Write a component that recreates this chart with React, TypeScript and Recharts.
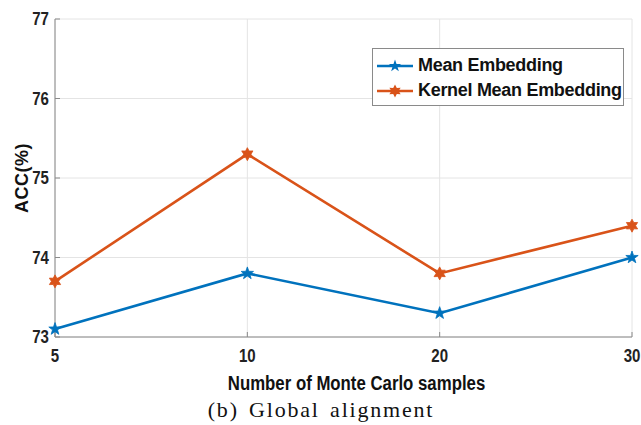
import { CartesianGrid, Label, Line, LineChart, XAxis, YAxis } from "recharts";

const samples = ["5", "10", "20", "30"];
const meanEmbedding = [73.1, 73.8, 73.3, 74.0];
const kernelMeanEmbedding = [73.7, 75.3, 73.8, 74.4];
const yTicks = [73, 74, 75, 76, 77];
const seriesNames = ["Mean Embedding", "Kernel Mean Embedding"];
const xTitle = "Number of Monte Carlo samples";
const yTitle = "ACC(%)";
const caption = "(b) Global alignment";

const data = samples.map((s, i) => ({
  samples: s,
  mean: meanEmbedding[i],
  kernel: kernelMeanEmbedding[i],
}));

const BLUE = "#0072BD";
const ORANGE = "#D95319";
const AXIS = "#8a8a8a";
const SANS = '"Liberation Sans", Arial, sans-serif';

// star polygon: 5 points = pentagram, 6 points = hexagram
const starPath = (cx: number, cy: number, points: number, outer: number, inner: number) => {
  let d = "";
  for (let i = 0; i < points * 2; i++) {
    const r = i % 2 === 0 ? outer : inner;
    const a = -Math.PI / 2 + (i * Math.PI) / points;
    d += `${i === 0 ? "M" : "L"}${cx + r * Math.cos(a)},${cy + r * Math.sin(a)}`;
  }
  return d + "Z";
};

const makeDot = (color: string, points: number) => (props: any) => {
  const { cx, cy, index } = props;
  if (cx == null || cy == null) return <g key={`e-${index}`} />;
  return (
    <path
      key={`${color}-${index}`}
      d={starPath(cx, cy, points, 6.5, points === 5 ? 2.6 : 3.6)}
      fill={color}
      stroke={color}
      strokeWidth={0.8}
    />
  );
};

const LegendIcon = ({ color, points }: { color: string; points: number }) => (
  <svg width={36} height={14} style={{ marginRight: 5 }}>
    <line x1={0} y1={7} x2={36} y2={7} stroke={color} strokeWidth={2.5} />
    <path d={starPath(18, 7, points, 6.5, points === 5 ? 2.6 : 3.6)} fill={color} />
  </svg>
);

// matlab-ish condensed bold tick labels
const CondensedTick = (props: any) => {
  const { x, y, payload, textAnchor, orientation } = props;
  const dy = orientation === "bottom" ? "0.72em" : "0.36em";
  return (
    <g transform={`translate(${x},${y})`}>
      <text
        transform="scale(0.86,1)"
        textAnchor={textAnchor}
        dy={dy}
        fill="#222"
        fontSize={17.5}
        fontWeight={700}
        fontFamily={SANS}
      >
        {payload.value}
      </text>
    </g>
  );
};

const XTitle = (props: any) => {
  const { x, y, width } = props.viewBox;
  return (
    <g transform={`translate(${x + width / 2 + 13},${y + 53})`}>
      <text transform="scale(0.8,1)" textAnchor="middle" fill="#111" fontSize={21} fontWeight={700} fontFamily={SANS}>
        {xTitle}
      </text>
    </g>
  );
};

export default function App() {
  return (
    <div style={{ position: "absolute", left: 0, top: 0, width: 641, height: 425, background: "#fff" }}>
      <LineChart width={641} height={425} data={data} margin={{ top: 19, right: 9, left: 0, bottom: 0 }}>
        <CartesianGrid stroke="#e4e4e4" strokeWidth={1} />
        <XAxis
          dataKey="samples"
          height={88}
          axisLine={{ stroke: AXIS }}
          tickLine={{ stroke: AXIS }}
          tickSize={-5}
          tickMargin={17}
          tick={<CondensedTick orientation="bottom" />}
          interval={0}
        >
          <Label content={<XTitle />} />
        </XAxis>
        <XAxis
          xAxisId="top"
          dataKey="samples"
          orientation="top"
          height={0}
          axisLine={{ stroke: AXIS }}
          tickLine={{ stroke: AXIS }}
          tickSize={-5}
          tickFormatter={() => ""}
          interval={0}
        />
        <YAxis
          domain={[73, 77]}
          ticks={yTicks}
          width={55}
          axisLine={{ stroke: AXIS }}
          tickLine={{ stroke: AXIS }}
          tickSize={-5}
          tickMargin={11}
          tick={<CondensedTick orientation="left" />}
        >
          <Label
            value={yTitle}
            position="insideLeft"
            angle={-90}
            offset={22}
            style={{ textAnchor: "middle", fill: "#111", fontSize: 18, fontWeight: 700, fontFamily: SANS, letterSpacing: 0.5 }}
          />
        </YAxis>
        <YAxis
          yAxisId="right"
          orientation="right"
          domain={[73, 77]}
          ticks={yTicks}
          width={0}
          axisLine={{ stroke: AXIS }}
          tickLine={{ stroke: AXIS }}
          tickSize={-5}
          tickFormatter={() => ""}
        />
        <Line
          dataKey="mean"
          name={seriesNames[0]}
          stroke={BLUE}
          strokeWidth={2.6}
          dot={makeDot(BLUE, 5)}
          activeDot={false}
          isAnimationActive={false}
        />
        <Line
          dataKey="kernel"
          name={seriesNames[1]}
          stroke={ORANGE}
          strokeWidth={2.6}
          dot={makeDot(ORANGE, 6)}
          activeDot={false}
          isAnimationActive={false}
        />
      </LineChart>

      <div
        style={{
          position: "absolute",
          left: 372,
          top: 48,
          width: 252,
          height: 58,
          border: `1px solid ${AXIS}`,
          background: "#fff",
          boxSizing: "border-box",
          padding: "4px 0 0 4px",
          fontFamily: SANS,
          fontWeight: 700,
          fontSize: 18,
          letterSpacing: -0.3,
          color: "#111",
          lineHeight: "25px",
        }}
      >
        {seriesNames.map((name, i) => (
          <div key={name} style={{ display: "flex", alignItems: "center", height: 25 }}>
            <LegendIcon color={i === 0 ? BLUE : ORANGE} points={i === 0 ? 5 : 6} />
            <span>{name}</span>
          </div>
        ))}
      </div>

      <div
        style={{
          position: "absolute",
          left: 0,
          width: 642,
          top: 397,
          textAlign: "center",
          fontFamily: '"Liberation Serif", "DejaVu Serif", serif',
          fontSize: 22,
          letterSpacing: 1.8,
          wordSpacing: 3,
          color: "#111",
        }}
      >
        {caption}
      </div>
    </div>
  );
}
